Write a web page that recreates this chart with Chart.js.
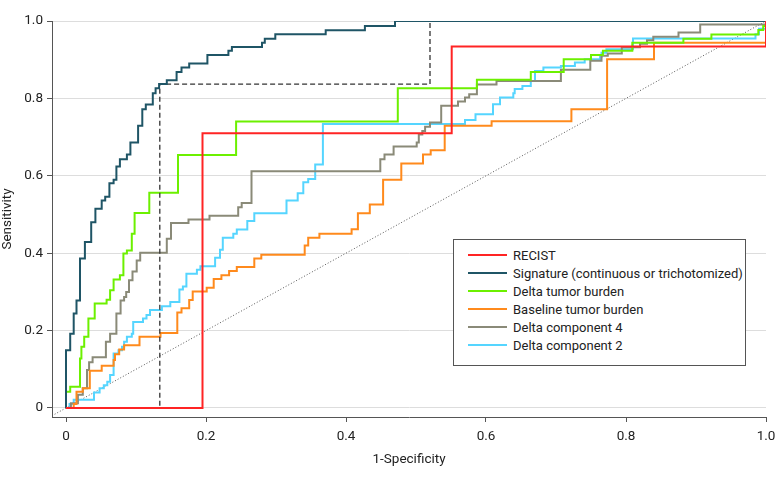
<!DOCTYPE html>
<html>
<head>
<meta charset="utf-8">
<script src="https://cdn.jsdelivr.net/npm/chart.js@4.4.0/dist/chart.umd.min.js"></script>
<style>
  body { margin: 0; background: #fff; }
  #wrap { position: relative; width: 783px; height: 478px; }
  #legend {
    position: absolute; left: 453px; top: 239px; width: 291px; height: 119px;
    border: 1px solid #555; background: #fff; box-sizing: content-box;
    font-family: Roboto, "Noto Sans", sans-serif; font-size: 13px; color: #222;
    padding-top: 6px;
  }
  .row { height: 18px; display: flex; align-items: center; }
  .swatch { width: 39px; height: 2px; margin-left: 14px; margin-right: 6px; }
</style>
</head>
<body>
<div id="wrap">
  <canvas id="roc" width="783" height="478"></canvas>
  <div id="legend"></div>
</div>
<script>
// tick labels
const tickValues = [0, 0.2, 0.4, 0.6, 0.8, 1];
const xTickLabels = ["0", "0.2", "0.4", "0.6", "0.8", "1.0"];
const yTickLabels = ["0", "0.2", "0.4", "0.6", "0.8", "1.0"];

// RECIST
const recistX = [0, 0.195, 0.551, 1.0];
const recistY = [0, 0.710, 0.934, 1.0];

// Signature (continuous)
const sigX = [0, 0, 0.006, 0.011, 0.015, 0.020, 0.027, 0.036, 0.042, 0.051, 0.056, 0.062, 0.068,
  0.072, 0.077, 0.087, 0.092, 0.103, 0.109, 0.114, 0.124, 0.128, 0.133, 0.144, 0.158, 0.165,
  0.176, 0.202, 0.232, 0.237, 0.280, 0.284, 0.299, 0.371, 0.427, 0.470, 1.0];
const sigY = [0, 0.149, 0.192, 0.244, 0.278, 0.386, 0.429, 0.480, 0.515, 0.536, 0.546, 0.581, 0.590,
  0.624, 0.643, 0.655, 0.686, 0.729, 0.772, 0.784, 0.813, 0.826, 0.837, 0.847, 0.868, 0.880,
  0.890, 0.912, 0.923, 0.933, 0.944, 0.954, 0.966, 0.976, 0.987, 1.0, 1.0];

// Signature (trichotomized), dashed
const sigTriX = [0, 0.134, 0.520, 1.0];
const sigTriY = [0, 0.837, 1.0, 1.0];

// Delta tumor burden
const dtbX = [0, 0, 0.006, 0.020, 0.022, 0.026, 0.032, 0.041, 0.058, 0.063, 0.068, 0.077, 0.082,
  0.087, 0.094, 0.098, 0.119, 0.160, 0.243, 0.474, 0.587, 0.664, 0.711, 0.750, 0.767, 0.809,
  0.882, 0.922, 0.989, 0.996, 1.0];
const dtbY = [0, 0.042, 0.055, 0.128, 0.158, 0.184, 0.231, 0.270, 0.280, 0.304, 0.332, 0.343, 0.399,
  0.407, 0.450, 0.504, 0.556, 0.654, 0.740, 0.826, 0.848, 0.868, 0.901, 0.912, 0.923, 0.944,
  0.954, 0.965, 0.977, 0.987, 1.0];

// Baseline tumor burden
const btbX = [0, 0.011, 0.015, 0.024, 0.034, 0.051, 0.068, 0.070, 0.076, 0.083, 0.105, 0.135, 0.159,
  0.165, 0.176, 0.181, 0.201, 0.211, 0.222, 0.233, 0.244, 0.269, 0.279, 0.341, 0.346, 0.362,
  0.408, 0.417, 0.434, 0.453, 0.479, 0.510, 0.521, 0.541, 0.608, 0.722, 0.773, 0.840, 1.0];
const btbY = [0, 0.010, 0.042, 0.051, 0.096, 0.109, 0.124, 0.139, 0.151, 0.162, 0.184, 0.194, 0.247,
  0.258, 0.279, 0.301, 0.311, 0.333, 0.343, 0.354, 0.364, 0.386, 0.396, 0.420, 0.440, 0.450,
  0.462, 0.503, 0.526, 0.590, 0.632, 0.655, 0.666, 0.729, 0.741, 0.772, 0.901, 0.944, 1.0];

// Delta component 4
const dc4X = [0, 0.007, 0.017, 0.024, 0.030, 0.033, 0.038, 0.057, 0.063, 0.072, 0.078, 0.083, 0.086,
  0.090, 0.095, 0.101, 0.106, 0.144, 0.150, 0.175, 0.205, 0.246, 0.251, 0.265, 0.449, 0.455,
  0.468, 0.501, 0.504, 0.509, 0.513, 0.520, 0.536, 0.560, 0.570, 0.576, 0.587, 0.615, 0.707,
  0.749, 0.765, 0.774, 0.794, 0.820, 0.830, 0.839, 0.875, 0.906, 1.0];
const dc4Y = [0, 0.012, 0.034, 0.051, 0.098, 0.118, 0.131, 0.171, 0.192, 0.244, 0.278, 0.287, 0.300,
  0.330, 0.353, 0.381, 0.401, 0.437, 0.478, 0.487, 0.497, 0.519, 0.530, 0.612, 0.643, 0.655,
  0.676, 0.686, 0.707, 0.716, 0.727, 0.738, 0.781, 0.792, 0.802, 0.811, 0.836, 0.845, 0.874,
  0.897, 0.910, 0.916, 0.932, 0.941, 0.950, 0.959, 0.970, 0.991, 1.0];

// Delta component 2
const dc2X = [0, 0.005, 0.011, 0.040, 0.048, 0.054, 0.059, 0.063, 0.068, 0.075, 0.080, 0.083, 0.087,
  0.094, 0.096, 0.110, 0.115, 0.120, 0.137, 0.149, 0.162, 0.167, 0.172, 0.187, 0.192, 0.213,
  0.220, 0.224, 0.239, 0.244, 0.259, 0.269, 0.315, 0.331, 0.339, 0.346, 0.356, 0.367, 0.570,
  0.585, 0.610, 0.620, 0.639, 0.641, 0.652, 0.664, 0.670, 0.682, 0.707, 0.727, 0.741, 0.763,
  0.765, 0.772, 0.810, 0.985, 0.990, 1.0];
const dc2Y = [0, 0.010, 0.021, 0.040, 0.051, 0.059, 0.068, 0.085, 0.141, 0.149, 0.158, 0.171, 0.184,
  0.192, 0.222, 0.231, 0.240, 0.253, 0.263, 0.274, 0.306, 0.314, 0.347, 0.357, 0.366, 0.388,
  0.409, 0.440, 0.450, 0.461, 0.483, 0.503, 0.536, 0.555, 0.583, 0.592, 0.629, 0.734, 0.744,
  0.759, 0.785, 0.802, 0.813, 0.824, 0.832, 0.845, 0.871, 0.880, 0.884, 0.893, 0.901, 0.907,
  0.918, 0.927, 0.955, 0.966, 0.980, 1.0];

// reference diagonal
const diagX = [-0.02, 1.0];
const diagY = [-0.02, 1.0];

const toPoints = (xs, ys) => xs.map((x, i) => ({ x, y: ys[i] }));

const series = [
  { label: "RECIST", xs: recistX, ys: recistY, color: "#ff2424" },
  { label: "Signature (continuous or trichotomized)", xs: sigX, ys: sigY, color: "#1f5566" },
  { label: "Delta tumor burden", xs: dtbX, ys: dtbY, color: "#6cf000" },
  { label: "Baseline tumor burden", xs: btbX, ys: btbY, color: "#ff8a1c" },
  { label: "Delta component 4", xs: dc4X, ys: dc4Y, color: "#8a8a78" },
  { label: "Delta component 2", xs: dc2X, ys: dc2Y, color: "#55d5ff" },
];

const datasets = series.map((s) => ({
  label: s.label,
  data: toPoints(s.xs, s.ys),
  borderColor: s.color,
  borderWidth: 2,
  pointRadius: 0,
  stepped: true,
  fill: false,
}));

datasets.splice(2, 0, {
  label: "Signature (trichotomized)",
  data: toPoints(sigTriX, sigTriY),
  borderColor: "#333",
  borderWidth: 1.3,
  borderDash: [5, 3],
  pointRadius: 0,
  stepped: true,
  fill: false,
});

datasets.push({
  label: "Reference",
  data: toPoints(diagX, diagY),
  borderColor: "#555",
  borderWidth: 1,
  borderDash: [1, 2],
  pointRadius: 0,
  fill: false,
});

const tickFont = { family: "Roboto, 'Noto Sans', sans-serif", size: 13.5 };

new Chart(document.getElementById("roc"), {
  type: "line",
  data: { datasets },
  options: {
    responsive: false,
    animation: false,
    layout: { padding: { top: 21, right: 17, left: 0, bottom: 0 } },
    plugins: { legend: { display: false }, tooltip: { enabled: false } },
    scales: {
      x: {
        type: "linear",
        min: -0.02,
        max: 1.0,
        afterBuildTicks: (scale) => { scale.ticks = tickValues.map((v) => ({ value: v })); },
        afterFit: (scale) => { scale.height = 61; },
        ticks: {
          color: "#222",
          font: tickFont,
          padding: 7,
          maxRotation: 0,
          callback: (v) => xTickLabels[tickValues.indexOf(v)],
        },
        grid: { drawOnChartArea: false, tickLength: 5, tickColor: "#555" },
        border: { color: "#555" },
        title: { display: true, text: "1-Specificity", color: "#222", font: tickFont, padding: { top: 0, bottom: 10 } },
      },
      y: {
        type: "linear",
        min: -0.0233,
        max: 1.0,
        afterBuildTicks: (scale) => { scale.ticks = tickValues.map((v) => ({ value: v })); },
        afterFit: (scale) => { scale.width = 52; },
        ticks: {
          color: "#222",
          font: tickFont,
          padding: 4,
          callback: (v) => yTickLabels[tickValues.indexOf(v)],
        },
        grid: { color: "#dddddd", tickLength: 5, tickColor: "#555" },
        border: { color: "#555" },
        title: { display: true, text: "Sensitivity", color: "#222", font: tickFont, padding: { top: 0, bottom: 0 } },
      },
    },
  },
});

const legendEl = document.getElementById("legend");
series.forEach((s) => {
  const row = document.createElement("div");
  row.className = "row";
  const sw = document.createElement("span");
  sw.className = "swatch";
  sw.style.background = s.color;
  const txt = document.createElement("span");
  txt.textContent = s.label;
  row.appendChild(sw);
  row.appendChild(txt);
  legendEl.appendChild(row);
});
</script>
</body>
</html>
